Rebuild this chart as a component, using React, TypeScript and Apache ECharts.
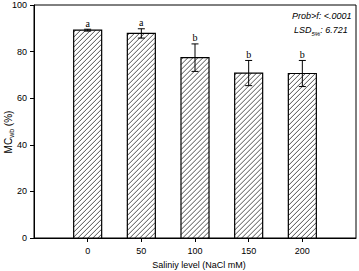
import React, { useEffect, useRef } from "react";
import * as echarts from "echarts";

const levels = [0, 50, 100, 150, 200];
const mcwb = [89.2, 87.8, 77.4, 70.8, 70.6];
const errors = [0.4, 2.0, 5.9, 5.4, 5.6];
const letters = ["a", "a", "b", "b", "b"];
const yTicks = [0, 20, 40, 60, 80, 100];

const FONT = "'Liberation Sans', Arial, sans-serif";

export default function App() {
  const ref = useRef<HTMLDivElement>(null);
  useEffect(() => {
    if (!ref.current) return;
    const chart = echarts.init(ref.current, undefined, { renderer: "svg" });
    const data = levels.map((l, i) => [l, mcwb[i], errors[i], i]);
    chart.setOption({
      animation: false,
      grid: {
        left: 34,
        right: 3,
        top: 5,
        bottom: 33,
        show: true,
        borderColor: "#000",
        borderWidth: 1,
        backgroundColor: "transparent",
      },
      xAxis: {
        type: "value",
        min: -50,
        max: 250,
        interval: 50,
        splitLine: { show: false },
        axisLine: { onZero: false, lineStyle: { color: "#000", width: 1 } },
        axisTick: {
          show: true,
          inside: false,
          length: 4,
          lineStyle: { color: "#000" },
          customValues: levels,
        },
        axisLabel: {
          color: "#000",
          fontSize: 9,
          fontFamily: FONT,
          margin: 8,
          customValues: levels,
          formatter: (v: number) => (levels.includes(v) ? String(v) : ""),
        },
      },
      yAxis: {
        type: "value",
        min: 0,
        max: 100,
        interval: 20,
        splitLine: { show: false },
        axisLine: { show: true, onZero: false, lineStyle: { color: "#000", width: 1 } },
        axisTick: { show: true, inside: false, length: 4, lineStyle: { color: "#000" } },
        axisLabel: {
          color: "#000",
          fontSize: 9,
          fontFamily: FONT,
          margin: 7,
          showMaxLabel: true,
          showMinLabel: true,
          formatter: (v: number) => (yTicks.includes(v) ? String(v) : ""),
        },
      },
      series: [
        {
          type: "custom",
          data,
          clip: false,
          silent: true,
          itemStyle: { color: "#000" },
          encode: { x: 0, y: 1 },
          renderItem: (params: any, api: any) => {
            const i = params.dataIndex;
            const x = levels[i];
            const v = mcwb[i];
            const e = errors[i];
            const [cx, yTop] = api.coord([x, v]);
            const [, yBase] = api.coord([x, 0]);
            const [, yHi] = api.coord([x, v + e]);
            const [, yLo] = api.coord([x, v - e]);
            const w = 28;
            const x1 = cx - w / 2;
            const x2 = cx + w / 2;
            const children: any[] = [];
            children.push({
              type: "rect",
              shape: { x: x1, y: yTop, width: w, height: yBase - yTop },
              style: { fill: "#fff", stroke: "none" },
            });
            const s = 5;
            for (let c = x1 + yTop + 2; c < x2 + yBase; c += s) {
              const yA = Math.min(yBase, c - x1);
              const xA = c - yA;
              const yB = Math.max(yTop, c - x2);
              const xB = c - yB;
              if (yA > yB) {
                children.push({
                  type: "line",
                  shape: { x1: xA, y1: yA, x2: xB, y2: yB },
                  style: { stroke: "#222", lineWidth: 0.8 },
                });
              }
            }
            children.push({
              type: "rect",
              shape: { x: x1, y: yTop, width: w, height: yBase - yTop },
              style: { fill: "none", stroke: "#000", lineWidth: 1.2 },
            });
            const cap = 3.5;
            children.push({
              type: "line",
              shape: { x1: cx, y1: yHi, x2: cx, y2: yLo },
              style: { stroke: "#000", lineWidth: 1 },
            });
            children.push({
              type: "line",
              shape: { x1: cx - cap, y1: yHi, x2: cx + cap, y2: yHi },
              style: { stroke: "#000", lineWidth: 1 },
            });
            children.push({
              type: "line",
              shape: { x1: cx - cap, y1: yLo, x2: cx + cap, y2: yLo },
              style: { stroke: "#000", lineWidth: 1 },
            });
            children.push({
              type: "text",
              x: cx,
              y: yHi - 1,
              style: {
                text: letters[i],
                fill: "#000",
                fontSize: 10,
                fontFamily: "'Liberation Serif', 'Times New Roman', serif",
                textAlign: "center",
                textVerticalAlign: "bottom",
              },
            });
            return { type: "group", children };
          },
        },
      ],
      graphic: [
        {
          type: "text",
          x: 8,
          y: 132,
          rotation: Math.PI / 2,
          style: {
            text: "{n|MC}{s|wb}{n| (%)}",
            textAlign: "center",
            textVerticalAlign: "middle",
            rich: {
              n: { fontSize: 10, fontFamily: FONT, fill: "#000", lineHeight: 14 },
              s: { fontSize: 7, fontFamily: FONT, fill: "#000", lineHeight: 7, verticalAlign: "bottom" },
            },
          },
        },
        {
          type: "text",
          x: 199,
          y: 265,
          style: {
            text: "Saliniy level (NaCl mM)",
            fontSize: 9,
            fontFamily: FONT,
            fill: "#000",
            textAlign: "center",
            textVerticalAlign: "middle",
          },
        },
        {
          type: "text",
          x: 292,
          y: 16,
          style: {
            text: "Prob>f: <.0001",
            fontSize: 9,
            fontStyle: "italic",
            fontFamily: FONT,
            fill: "#000",
            textAlign: "left",
            textVerticalAlign: "middle",
          },
        },
        {
          type: "text",
          x: 294,
          y: 30,
          style: {
            text: "{n|LSD}{s|5%}{n|: 6.721}",
            textAlign: "left",
            textVerticalAlign: "middle",
            rich: {
              n: { fontSize: 9, fontStyle: "italic", fontFamily: FONT, fill: "#000", lineHeight: 13 },
              s: { fontSize: 6, fontStyle: "italic", fontFamily: FONT, fill: "#000", lineHeight: 7, verticalAlign: "bottom" },
            },
          },
        },
      ],
    });
    return () => chart.dispose();
  }, []);
  return (
    <div
      ref={ref}
      style={{ position: "absolute", left: 0, top: 0, width: 359, height: 271 }}
    />
  );
}
